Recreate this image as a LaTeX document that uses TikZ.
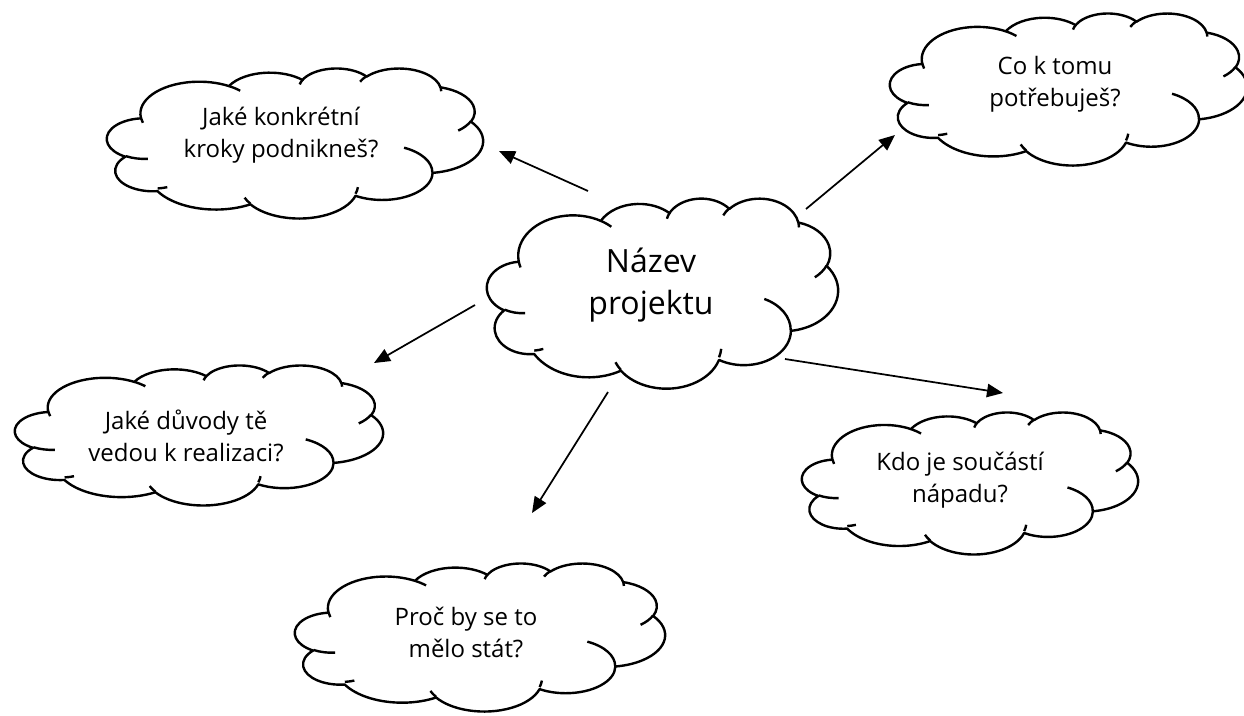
\documentclass[tikz,border=0pt]{standalone}
\usepackage{fontspec}
\setmainfont{Open Sans}
\usetikzlibrary{arrows.meta}

\tikzset{
  puff/.code n args={4}{%
    \pgfmathsetmacro\oostart{atan2(#1*sin(#3),#2*cos(#3))}%
    \pgfmathsetmacro\ooend{atan2(#1*sin(#3+#4),#2*cos(#3+#4))}%
    \pgfmathsetmacro\oodelta{\ooend-\oostart}%
    \pgfmathsetmacro\oodelta{\oodelta-360*round((\oodelta-#4)/360)}%
    \pgfkeysalso{start angle/.expanded=\oostart, delta angle/.expanded=\oodelta,
      x radius=#1, y radius=#2}},
  cloudline/.style={line width=1.8pt, line join=round},
  idea/.style={align=center, font=\fontsize{18}{24}\selectfont},
  maintext/.style={align=center, font=\fontsize{24}{32}\selectfont},
  arrow/.style={-{Triangle[length=12pt,width=10pt]}, line width=1.3pt},
}

% cloud outline in a box: left, top, width, height (px)
\newcommand{\wordcloud}[4]{%
  \pgfmathsetmacro\cw{#3*0.75/432}%
  \pgfmathsetmacro\ch{#4*0.75/432}%
  \begin{scope}[shift={(#1,#2)}, x=\cw pt, y=-\ch pt]
    \draw[cloudline, fill=white] (39,143.7)
      arc[puff={67.53}{91.90}{-190.4875}{123.7805}]
      arc[puff={53.33}{72.67}{-144.1024}{89.9452}]
      arc[puff={43.65}{59.45}{-145.8079}{99.7230}]
      arc[puff={48.57}{65.95}{-130.9861}{117.2417}]
      arc[puff={53.33}{72.73}{-78.7089}{109.0269}]
      arc[puff={67.75}{92.20}{-46.2673}{130.2690}]
      arc[puff={57.85}{78.67}{0.6250}{114.0333}]
      arc[puff={67.52}{92.15}{22.4516}{115.1726}]
      arc[puff={77.20}{105.43}{66.2426}{75.7110}]
      arc[puff={43.60}{59.18}{-274.9421}{146.7356}]
      arc[puff={43.45}{59.45}{-246.8285}{152.5189}] -- cycle;
    \draw[cloudline]
      (46.93,261.77) arc[puff={43.45}{59.45}{86.7420}{26.4295}]
      (69.28,343.15) arc[puff={43.60}{59.18}{73.6105}{11.4475}]
      (164.78,390.90) arc[puff={67.52}{92.15}{137.6242}{14.0811}]
      (288.27,343.07) arc[puff={67.52}{92.15}{6.4533}{15.9984}]
      (341.29,229.54) arc[puff={57.85}{78.67}{-70.2924}{70.9174}]
      (417.98,153.54) arc[puff={53.33}{72.73}{30.3180}{27.7515}]
      (383.24,54.26) arc[puff={48.57}{65.95}{-13.7443}{14.8589}]
      (290.78,39.52) arc[puff={48.57}{65.95}{-149.1815}{18.1954}]
      (221.41,47.20) arc[puff={43.65}{59.45}{-163.4943}{17.6864}]
      (140.00,51.92) arc[puff={67.53}{91.90}{-66.7070}{12.3194}]
      (41.27,157.89) arc[puff={67.53}{91.90}{157.6544}{11.8582}];
  \end{scope}}

\begin{document}
\begin{tikzpicture}[x=0.75pt, y=-0.75pt]
  \useasboundingbox (0,0) rectangle (1244,715);
  \clip (0,0) rectangle (1244,715);
  % Clouds
  \wordcloud{487}{198}{351}{190}
  \wordcloud{107}{68}{376}{150}
  \wordcloud{890}{13}{357}{152}
  \wordcloud{15}{365}{368}{140}
  \wordcloud{802}{412}{336}{142}
  \wordcloud{295}{563}{370}{148}
  % Texts
  \node[maintext] (title) at (651,285) {Název\\projektu};
  \node[idea] (steps) at (281,135) {Jaké konkrétní\\kroky podnikneš?};
  \node[idea] (needs) at (1055,84) {Co k tomu\\potřebuješ?};
  \node[idea] (reasons) at (186,436) {Jaké důvody tě\\vedou k realizaci?};
  \node[idea] (team) at (960,480) {Kdo je součástí\\nápadu?};
  \node[idea] (purpose) at (466,632) {Proč by se to\\mělo stát?};
  % Arrow ends
  \coordinate (steps-a) at (588,191);
  \coordinate (steps-b) at (499,151);
  \coordinate (needs-a) at (806,209);
  \coordinate (needs-b) at (895,135);
  \coordinate (reasons-a) at (475,305);
  \coordinate (reasons-b) at (374,363);
  \coordinate (purpose-a) at (608,392);
  \coordinate (purpose-b) at (532,513);
  \coordinate (team-a) at (785,359);
  \coordinate (team-b) at (1003,393);
  % Arrows
  \draw[arrow] (steps-a) -- (steps-b);
  \draw[arrow] (needs-a) -- (needs-b);
  \draw[arrow] (reasons-a) -- (reasons-b);
  \draw[arrow] (purpose-a) -- (purpose-b);
  \draw[arrow] (team-a) -- (team-b);
\end{tikzpicture}
\end{document}
